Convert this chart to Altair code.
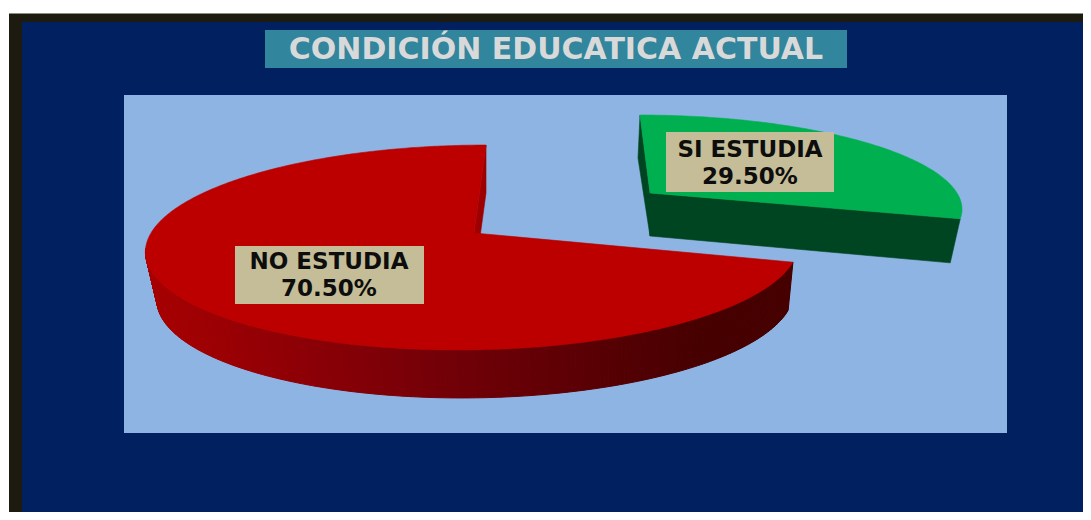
import math
import altair as alt
import pandas as pd

# ---- values
categories = ["NO ESTUDIA", "SI ESTUDIA"]
shares = [70.50, 29.50]

box_names = ["frame_edge", "frame", "panel", "title", "plot", "label_no", "label_si"]
box_x0 = [9, 9, 22, 265, 124, 235, 666]
box_x1 = [1091, 1091, 1091, 847, 1007, 424, 834]
box_y0 = [13, 14, 22, 30, 95, 246, 132]
box_y1 = [14, 520, 517, 68, 433, 304, 192]
box_fill = ["#8c8c86", "#1d1b10", "#002060", "#31859c", "#8eb4e3", "#c4bd97", "#c4bd97"]

text_labels = ["CONDICIÓN EDUCATICA ACTUAL", "NO ESTUDIA", "70.50%", "SI ESTUDIA", "29.50%"]
text_x = [556, 329, 329, 750, 750]
text_y = [50, 262, 289, 150, 177]
text_size = [30, 23, 23, 23, 23]
text_color = ["#d9d9d9", "#0d0d0d", "#0d0d0d", "#0d0d0d", "#0d0d0d"]

RED_TOP, RED_WALL, RED_L, RED_R = "#bc0000", "#9c0000", "#a80000", "#460000"
GREEN_TOP, GREEN_WALL = "#00b050", "#004521"


def project(theta, view):
    ax, ay, A, B, S, k, sign = view
    u = sign * math.sin(theta)
    v = -math.cos(theta)
    w = 1 - k * v
    return (ax + (A * u + S * v) / w, ay + B * v / w)


red_view = (474, 233, 323, 100.4, -13.7, 0.1415, -1)
green_view = (650, 193, 307, 89, 11.4, 0.1415, 1)
red_sweep = math.radians(shares[0] * 3.6)
green_sweep = math.radians(shares[1] * 3.6)


def arc(view, sweep, n):
    return [project(sweep * i / n, view) for i in range(n + 1)]


def feature(points, **props):
    ring = [list(p) for p in points] + [list(points[0])]
    return {"type": "Feature", "properties": props,
            "geometry": {"type": "Polygon", "coordinates": [ring]}}


def drop_red(p):
    return (482 + 3 + (p[0] - 482) * 0.975, p[1] + 48)


red_arc = arc(red_view, red_sweep, 360)
green_arc = arc(green_view, green_sweep, 120)
red_apex = (red_view[0], red_view[1])
green_apex = (green_view[0], green_view[1])
red_tip = red_arc[0]
green_tip = green_arc[0]
green_end = green_arc[-1]

under = [
    feature([red_tip, (red_tip[0], red_tip[1] + 48), (red_apex[0], red_apex[1] + 48), red_apex], fill=RED_WALL),
    feature([green_tip, (green_tip[0] - 2, green_tip[1] + 43), (green_apex[0], green_apex[1] + 43), green_apex], fill=GREEN_WALL),
    feature([green_apex, green_end, (green_end[0] - 10, green_end[1] + 44), (green_apex[0], green_apex[1] + 43)], fill=GREEN_WALL),
]

rim = []
visible = [p for i, p in enumerate(red_arc) if i >= 140]
for a, b in zip(visible[:-1], visible[1:]):
    shade = min(1.0, max(0.0, ((a[0] + b[0]) / 2 - 145) / 560))
    rim.append(feature([a, b, drop_red(b), drop_red(a)], shade=round(shade, 3)))

top = [
    feature([red_apex] + red_arc, fill=RED_TOP),
    feature([green_apex] + green_arc, fill=GREEN_TOP),
]

X = alt.Scale(domain=[8, 1083], range=[0, 1075], clamp=True)
Y = alt.Scale(domain=[8, 512], range=[0, 504], clamp=True)
PROJ = dict(type="identity", scale=1, translate=[-8, -8])

boxes = pd.DataFrame({"name": box_names, "x0": box_x0, "x1": box_x1, "y0": box_y0, "y1": box_y1, "fill": box_fill})
texts = pd.DataFrame({"t": text_labels, "x": text_x, "y": text_y, "size": text_size, "c": text_color})

back = boxes[~boxes.name.str.startswith("label") & (boxes.name != "title")]
front = boxes[boxes.name.str.startswith("label") | (boxes.name == "title")]


def rects(df):
    return alt.Chart(df).mark_rect(strokeWidth=0).encode(
        x=alt.X("x0:Q", scale=X, axis=None), x2="x1:Q",
        y=alt.Y("y0:Q", scale=Y, axis=None), y2="y1:Q",
        color=alt.Color("fill:N", scale=None),
    )


def shapes(feats):
    return alt.Chart(alt.Data(values=feats)).mark_geoshape(strokeWidth=0.6).project(**PROJ).encode(
        color=alt.Color("properties.fill:N", scale=None),
        stroke=alt.Stroke("properties.fill:N", scale=None),
    )


rim_scale = alt.Scale(domain=[0, 1], range=[RED_L, RED_R])
rim_layer = alt.Chart(alt.Data(values=rim)).mark_geoshape(strokeWidth=1).project(**PROJ).encode(
    color=alt.Color("properties.shade:Q", scale=rim_scale, legend=None),
    stroke=alt.Stroke("properties.shade:Q", scale=rim_scale, legend=None),
)

words = alt.Chart(texts).mark_text(font="DejaVu Sans", fontWeight="bold", baseline="middle", align="center").encode(
    x=alt.X("x:Q", scale=X, axis=None),
    y=alt.Y("y:Q", scale=Y, axis=None),
    text="t:N",
    size=alt.Size("size:Q", scale=None),
    color=alt.Color("c:N", scale=None),
)

chart = alt.layer(
    rects(back), shapes(under), rim_layer, shapes(top), rects(front), words,
).resolve_scale(color="independent", stroke="independent").properties(
    width=1075, height=504, padding=0, background="#ffffff", autosize=alt.AutoSizeParams(type="none")
).configure_view(stroke=None, strokeWidth=0)

chart.save("out.html", embed_options={"renderer": "svg", "actions": False})
